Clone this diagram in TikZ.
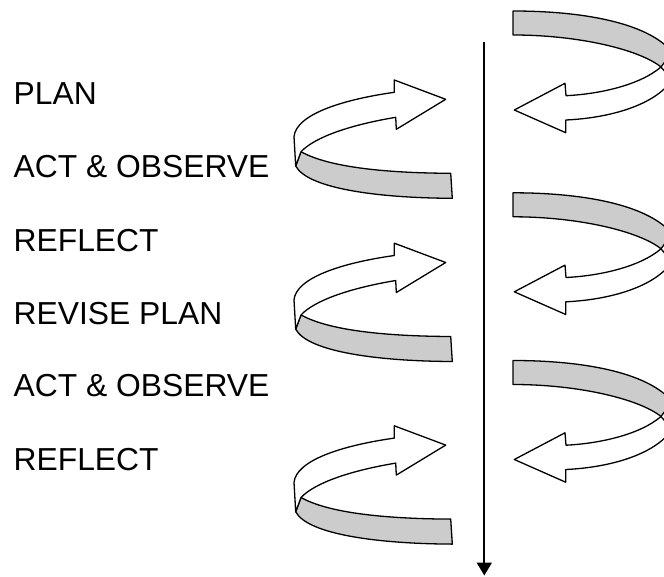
\documentclass[tikz,border=0pt]{standalone}
\usepackage{fontspec}
\setmainfont{Liberation Sans}
\usetikzlibrary{arrows.meta}
\definecolor{bandgray}{RGB}{204,204,204}
\tikzset{
  ribbonline/.style={draw=black, line width=1.3pt, line join=round},
  frontface/.style={ribbonline, fill=white},
  backface/.style={ribbonline, fill=bandgray},
  steplabel/.style={anchor=base west, inner sep=0pt, font=\fontsize{31.8}{32}\selectfont},
  ribbonL/.pic={
    \path[backface] (301,151.7) .. controls (330,168) and (390,173) .. (450.7,173.3)
      -- (452.3,198.3) .. controls (380,198) and (308,189) .. (295.7,166) -- cycle;
    \path[frontface] (294,136.7) .. controls (296,115) and (340,100) .. (394.3,92.3)
      -- (394.3,80) -- (445.7,99.3) -- (396.3,129.3) -- (395.7,117.3)
      .. controls (350,125) and (315,137) .. (301,151.7) -- (295.7,166) -- cycle;
  },
  ribbonR/.pic={
    \path[backface] (513,11) .. controls (590,11) and (650,25) .. (672,52)
      -- (661,67) .. controls (640,50) and (580,35) .. (513,35) -- cycle;
    \path[frontface] (661,67) .. controls (640,85) and (600,94) .. (566,95.7)
      -- (565,83.3) -- (514.3,110) -- (565.7,132.7) -- (565.7,120)
      .. controls (610,118) and (655,105) .. (672,80) -- cycle;
  }
}
\begin{document}
\begin{tikzpicture}[x=1pt,y=-1pt]
\useasboundingbox (0,0) rectangle (664,576);
\clip (0,0) rectangle (664,576);
% labels
\node[steplabel] (plan) at (13.5,104.3) {PLAN};
\node[steplabel] (act1) at (13.5,177.3) {ACT \& OBSERVE};
\node[steplabel] (ref1) at (13.5,251.7) {REFLECT};
\node[steplabel] (rev) at (13.5,324) {REVISE PLAN};
\node[steplabel] (act2) at (13.5,396.7) {ACT \& OBSERVE};
\node[steplabel] (ref2) at (13.5,470) {REFLECT};
% left ribbons
\pic at (0,0) {ribbonL};
\pic at (0,163.2) {ribbonL};
\pic at (0,345.8) {ribbonL};
% right ribbons
\pic at (0,0) {ribbonR};
\pic at (0,181.8) {ribbonR};
\pic at (0,349.5) {ribbonR};
% time axis
\coordinate (axistop) at (484.3,41.7);
\coordinate (axisend) at (484.3,575.5);
\draw[line width=1.9pt, -{Triangle[width=15pt,length=13pt]}] (axistop) -- (axisend);
\end{tikzpicture}
\end{document}
